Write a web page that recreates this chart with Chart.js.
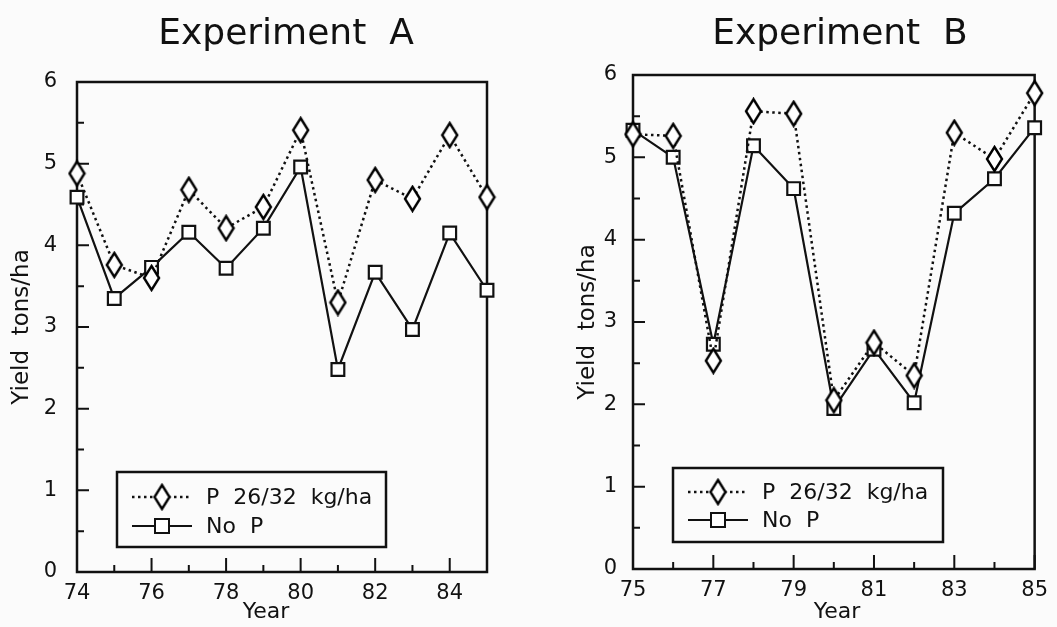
<!DOCTYPE html>
<html>
<head>
<meta charset="utf-8">
<script src="https://cdn.jsdelivr.net/npm/chart.js@4.4.0/dist/chart.umd.min.js"></script>
<style>
  body { margin: 0; background: #fbfbfb; width: 1057px; height: 627px; overflow: hidden; position: relative; }
  canvas { position: absolute; top: 0; }
  #chartA { left: 0; }
  #chartB { left: 540px; }
</style>
</head>
<body>
<canvas id="chartA" width="520" height="627"></canvas>
<canvas id="chartB" width="517" height="627"></canvas>
<script>
// values (yield, tons/ha)
const yearsA = [74, 75, 76, 77, 78, 79, 80, 81, 82, 83, 84, 85];
const withPA = [4.88, 3.76, 3.60, 4.68, 4.21, 4.47, 5.41, 3.30, 4.80, 4.57, 5.35, 4.59];
const noPA = [4.59, 3.35, 3.73, 4.16, 3.72, 4.21, 4.96, 2.48, 3.67, 2.97, 4.15, 3.45];

const yearsB = [75, 76, 77, 78, 79, 80, 81, 82, 83, 84, 85];
const withPB = [5.28, 5.26, 2.53, 5.56, 5.53, 2.05, 2.75, 2.35, 5.30, 4.98, 5.78];
const noPB = [5.33, 5.00, 2.73, 5.14, 4.62, 1.95, 2.67, 2.02, 4.32, 4.74, 5.36];

const yTicks = [0, 1, 2, 3, 4, 5, 6];
const xTicksA = [74, 76, 78, 80, 82, 84];
const xTicksB = [75, 77, 79, 81, 83, 85];

const seriesLabels = ['P  26/32  kg/ha', 'No  P'];

const INK = '#111';
const FONT = '"DejaVu Sans", sans-serif';

// tall open diamond used as marker for the P series
const diamond = document.createElement('canvas');
diamond.width = 19;
diamond.height = 28;
(() => {
  const c = diamond.getContext('2d');
  c.beginPath();
  c.moveTo(9.5, 2); c.lineTo(17, 14); c.lineTo(9.5, 26); c.lineTo(2, 14); c.closePath();
  c.fillStyle = '#fff';
  c.fill();
  c.lineWidth = 2.4;
  c.strokeStyle = '#000';
  c.stroke();
})();

// box, inward tick marks, panel title, x title and the framed legend
const paperFrame = {
  id: 'paperFrame',
  beforeDatasetsDraw(chart, args, opts) {
    const ctx = chart.ctx;
    const {left, right, top, bottom} = chart.chartArea;
    const xs = chart.scales.x, ys = chart.scales.y;
    ctx.save();
    ctx.strokeStyle = INK;
    ctx.lineWidth = 2.5;
    ctx.strokeRect(left, top, right - left, bottom - top);
    ctx.lineWidth = 2;
    ctx.beginPath();
    for (let v = ys.min; v <= ys.max; v += 0.5) {
      const py = ys.getPixelForValue(v);
      const len = Number.isInteger(v) ? 12 : 7;
      ctx.moveTo(left, py); ctx.lineTo(left + len, py);
    }
    for (let yr = xs.min; yr <= xs.max; yr++) {
      const px = xs.getPixelForValue(yr);
      const len = opts.majors.includes(yr) ? 14 : 7;
      ctx.moveTo(px, bottom); ctx.lineTo(px, bottom - len);
    }
    ctx.stroke();
    ctx.restore();
  },
  afterDraw(chart, args, opts) {
    const ctx = chart.ctx;
    ctx.save();
    ctx.fillStyle = INK;
    ctx.textAlign = 'center';
    ctx.textBaseline = 'middle';
    ctx.font = '36px ' + FONT;
    ctx.fillText(opts.title, opts.titleX, 35);
    ctx.font = '22px ' + FONT;
    ctx.fillText('Year', opts.yearX, 612);

    const L = opts.legend;
    ctx.strokeStyle = INK;
    ctx.lineWidth = 2.5;
    ctx.strokeRect(L.x, L.y, L.w, L.h);
    ctx.textAlign = 'left';
    ctx.font = '22px ' + FONT;
    chart.data.datasets.forEach((ds, i) => {
      const ry = L.y + L.row[i];
      ctx.beginPath();
      ctx.setLineDash(ds.borderDash || []);
      ctx.lineWidth = ds.borderWidth;
      ctx.moveTo(L.x + 15, ry); ctx.lineTo(L.x + 75, ry);
      ctx.stroke();
      ctx.setLineDash([]);
      if (i === 0) {
        ctx.drawImage(diamond, L.x + 45 - 9.5, ry - 14);
      } else {
        ctx.fillStyle = '#fff';
        ctx.fillRect(L.x + 38, ry - 7, 14, 14);
        ctx.lineWidth = 2;
        ctx.strokeRect(L.x + 38, ry - 7, 14, 14);
        ctx.fillStyle = INK;
      }
      ctx.fillText(ds.label, L.x + 89, ry + 1);
    });
    ctx.restore();
  }
};

function makePanel(id, years, withP, noP, xTicks, layout) {
  return new Chart(document.getElementById(id), {
    type: 'line',
    data: {
      datasets: [
        {
          label: seriesLabels[0],
          data: years.map((yr, i) => ({x: yr, y: withP[i]})),
          borderColor: INK,
          borderWidth: 2.5,
          borderDash: [2.5, 3.5],
          pointStyle: diamond,
          clip: false,
        },
        {
          label: seriesLabels[1],
          data: years.map((yr, i) => ({x: yr, y: noP[i]})),
          borderColor: INK,
          borderWidth: 2.2,
          pointStyle: 'rect',
          pointRadius: 9,
          pointBorderWidth: 2.2,
          pointBackgroundColor: '#fff',
          pointBorderColor: INK,
          clip: false,
        },
      ],
    },
    options: {
      responsive: false,
      animation: false,
      events: [],
      layout: {padding: {left: 0, top: layout.top, right: layout.right, bottom: 0}},
      elements: {line: {tension: 0}},
      scales: {
        x: {
          type: 'linear',
          min: years[0],
          max: 85,
          grid: {display: false, drawTicks: false},
          border: {display: false},
          afterBuildTicks: (s) => { s.ticks = xTicks.map(v => ({value: v})); },
          afterFit: (s) => { s.height = 627 - layout.bottomY; },
          ticks: {color: INK, font: {family: FONT, size: 21}, padding: 9, maxRotation: 0},
        },
        y: {
          min: 0,
          max: 6,
          grid: {display: false, drawTicks: false},
          border: {display: false},
          afterBuildTicks: (s) => { s.ticks = yTicks.map(v => ({value: v})); },
          afterFit: (s) => { s.width = layout.plotLeft; },
          ticks: {color: INK, font: {family: FONT, size: 21}, padding: layout.tickPad},
          title: {
            display: true,
            text: 'Yield  tons/ha',
            color: INK,
            font: {family: FONT, size: 23},
            padding: {top: layout.titlePad},
          },
        },
      },
      plugins: {
        legend: {display: false},
        tooltip: {enabled: false},
        paperFrame: {
          majors: xTicks,
          title: layout.title,
          titleX: layout.titleX,
          yearX: layout.yearX,
          legend: layout.legend,
        },
      },
    },
    plugins: [paperFrame],
  });
}

makePanel('chartA', yearsA, withPA, noPA, xTicksA, {
  top: 82, right: 520 - 487, bottomY: 572, plotLeft: 77, tickPad: 20, titlePad: 8,
  title: 'Experiment  A', titleX: 286, yearX: 266,
  legend: {x: 117, y: 472, w: 269, h: 75, row: [25, 54]},
});

makePanel('chartB', yearsB, withPB, noPB, xTicksB, {
  top: 75, right: 517 - 505, bottomY: 569, plotLeft: 93, tickPad: 16, titlePad: 34,
  title: 'Experiment  B', titleX: 300, yearX: 297,
  legend: {x: 133, y: 468, w: 270, h: 74, row: [24, 52]},
});
</script>
</body>
</html>
